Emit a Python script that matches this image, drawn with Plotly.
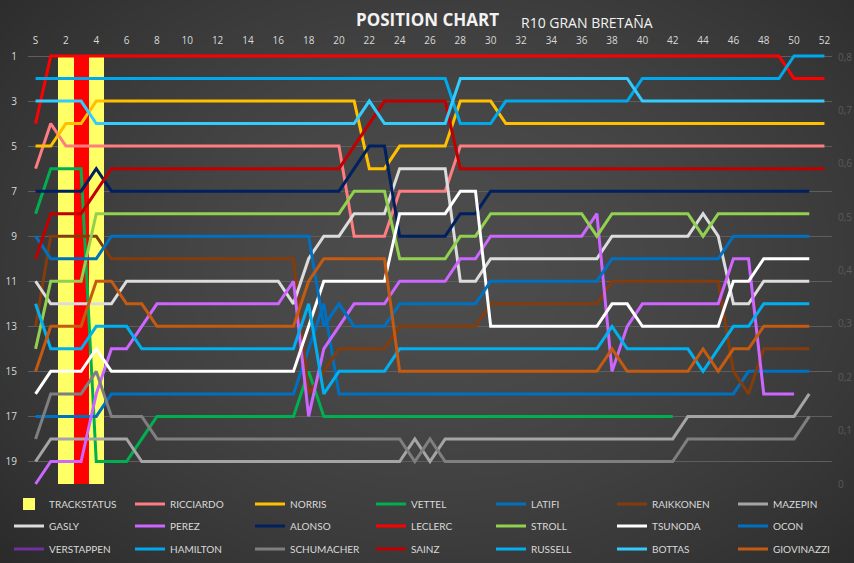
import base64
import struct
import zlib

import numpy as np
import plotly.graph_objects as go

# ---------------- DATA ----------------
laps = list(range(0, 53))
lap_ticks = list(range(0, 53, 2))
lap_ticktext = ["S"] + [str(v) for v in range(2, 53, 2)]
position_ticks = [1, 3, 5, 7, 9, 11, 13, 15, 17, 19]
status_ticks = [0, 0.1, 0.2, 0.3, 0.4, 0.5, 0.6, 0.7, 0.8]
status_ticktext = ["0", "0,1", "0,2", "0,3", "0,4", "0,5", "0,6", "0,7", "0,8"]

track_status_laps = [2, 3, 4]
track_status_type = ["YELLOW", "RED", "YELLOW"]
track_status_value = [0.8, 0.8, 0.8]

ricciardo = [6, 4, 5, 5, 5, 5, 5, 5, 5, 5,
             5, 5, 5, 5, 5, 5, 5, 5, 5, 5,
             5, 9, 9, 9, 7, 7, 7, 7, 5, 5,
             5, 5, 5, 5, 5, 5, 5, 5, 5, 5,
             5, 5, 5, 5, 5, 5, 5, 5, 5, 5,
             5, 5, 5]
norris = [5, 5, 4, 4, 3, 3, 3, 3, 3, 3,
          3, 3, 3, 3, 3, 3, 3, 3, 3, 3,
          3, 3, 6, 6, 5, 5, 5, 5, 3, 3,
          3, 4, 4, 4, 4, 4, 4, 4, 4, 4,
          4, 4, 4, 4, 4, 4, 4, 4, 4, 4,
          4, 4, 4]
vettel = [8, 6, 6, 6, 19, 19, 19, 18, 17, 17,
          17, 17, 17, 17, 17, 17, 17, 17, 15, 17,
          17, 17, 17, 17, 17, 17, 17, 17, 17, 17,
          17, 17, 17, 17, 17, 17, 17, 17, 17, 17,
          17, 17, 17]
latifi = [17, 17, 17, 17, 17, 16, 16, 16, 16, 16,
          16, 16, 16, 16, 16, 16, 16, 16, 14, 12,
          16, 16, 16, 16, 16, 16, 16, 16, 16, 16,
          16, 16, 16, 16, 16, 16, 16, 16, 16, 16,
          16, 16, 16, 16, 16, 16, 16, 15, 15, 15,
          15, 15]
raikkonen = [13, 9, 9, 9, 9, 10, 10, 10, 10, 10,
             10, 10, 10, 10, 10, 10, 10, 10, 16, 15,
             14, 14, 14, 14, 13, 13, 13, 13, 13, 13,
             12, 12, 12, 12, 12, 12, 12, 12, 11, 11,
             11, 11, 11, 11, 11, 11, 15, 16, 14, 14,
             14, 14]
mazepin = [19, 18, 18, 18, 18, 18, 18, 19, 19, 19,
           19, 19, 19, 19, 19, 19, 19, 19, 19, 19,
           19, 19, 19, 19, 19, 18, 19, 18, 18, 18,
           18, 18, 18, 18, 18, 18, 18, 18, 18, 18,
           18, 18, 18, 17, 17, 17, 17, 17, 17, 17,
           17, 16]
gasly = [11, 12, 12, 12, 12, 12, 11, 11, 11, 11,
         11, 11, 11, 11, 11, 11, 11, 12, 10, 9,
         9, 8, 8, 8, 6, 6, 6, 6, 11, 11,
         10, 10, 10, 10, 10, 10, 10, 10, 9, 9,
         9, 9, 9, 9, 8, 9, 12, 12, 11, 11,
         11, 11]
perez = [20, 19, 19, 19, 16, 14, 14, 13, 12, 12,
         12, 12, 12, 12, 12, 12, 12, 11, 17, 14,
         13, 12, 12, 12, 11, 11, 11, 11, 10, 10,
         9, 9, 9, 9, 9, 9, 9, 8, 15, 13,
         12, 12, 12, 12, 12, 12, 10, 10, 16, 16,
         16]
alonso = [7, 7, 7, 7, 6, 7, 7, 7, 7, 7,
          7, 7, 7, 7, 7, 7, 7, 7, 7, 7,
          7, 6, 5, 5, 9, 9, 9, 9, 8, 8,
          7, 7, 7, 7, 7, 7, 7, 7, 7, 7,
          7, 7, 7, 7, 7, 7, 7, 7, 7, 7,
          7, 7]
leclerc = [4, 1, 1, 1, 1, 1, 1, 1, 1, 1,
           1, 1, 1, 1, 1, 1, 1, 1, 1, 1,
           1, 1, 1, 1, 1, 1, 1, 1, 1, 1,
           1, 1, 1, 1, 1, 1, 1, 1, 1, 1,
           1, 1, 1, 1, 1, 1, 1, 1, 1, 1,
           2, 2, 2]
stroll = [14, 11, 11, 11, 8, 8, 8, 8, 8, 8,
          8, 8, 8, 8, 8, 8, 8, 8, 8, 8,
          8, 7, 7, 7, 10, 10, 10, 10, 9, 9,
          8, 8, 8, 8, 8, 8, 8, 9, 8, 8,
          8, 8, 8, 8, 9, 8, 8, 8, 8, 8,
          8, 8]
tsunoda = [16, 15, 15, 15, 14, 15, 15, 15, 15, 15,
           15, 15, 15, 15, 15, 15, 15, 15, 13, 11,
           11, 11, 11, 11, 8, 8, 8, 8, 7, 7,
           13, 13, 13, 13, 13, 13, 13, 13, 12, 12,
           13, 13, 13, 13, 13, 13, 11, 11, 10, 10,
           10, 10]
ocon = [9, 10, 10, 10, 10, 9, 9, 9, 9, 9,
        9, 9, 9, 9, 9, 9, 9, 9, 9, 13,
        12, 13, 13, 13, 12, 12, 12, 12, 12, 12,
        11, 11, 11, 11, 11, 11, 11, 11, 10, 10,
        10, 10, 10, 10, 10, 10, 9, 9, 9, 9,
        9, 9]
verstappen = [1]
hamilton = [2, 2, 2, 2, 2, 2, 2, 2, 2, 2,
            2, 2, 2, 2, 2, 2, 2, 2, 2, 2,
            2, 2, 2, 2, 2, 2, 2, 2, 4, 4,
            4, 3, 3, 3, 3, 3, 3, 3, 3, 3,
            2, 2, 2, 2, 2, 2, 2, 2, 2, 2,
            1, 1, 1]
schumacher = [18, 16, 16, 16, 15, 17, 17, 17, 18, 18,
              18, 18, 18, 18, 18, 18, 18, 18, 18, 18,
              18, 18, 18, 18, 18, 19, 18, 19, 19, 19,
              19, 19, 19, 19, 19, 19, 19, 19, 19, 19,
              19, 19, 19, 18, 18, 18, 18, 18, 18, 18,
              18, 17]
sainz = [10, 8, 8, 8, 7, 6, 6, 6, 6, 6,
         6, 6, 6, 6, 6, 6, 6, 6, 6, 6,
         6, 5, 4, 3, 3, 3, 3, 3, 6, 6,
         6, 6, 6, 6, 6, 6, 6, 6, 6, 6,
         6, 6, 6, 6, 6, 6, 6, 6, 6, 6,
         6, 6, 6]
russell = [12, 14, 14, 14, 13, 13, 13, 14, 14, 14,
           14, 14, 14, 14, 14, 14, 14, 14, 12, 16,
           15, 15, 15, 15, 14, 14, 14, 14, 14, 14,
           14, 14, 14, 14, 14, 14, 14, 14, 13, 14,
           14, 14, 14, 14, 15, 14, 13, 13, 12, 12,
           12, 12]
bottas = [3, 3, 3, 3, 4, 4, 4, 4, 4, 4,
          4, 4, 4, 4, 4, 4, 4, 4, 4, 4,
          4, 4, 3, 4, 4, 4, 4, 4, 2, 2,
          2, 2, 2, 2, 2, 2, 2, 2, 2, 2,
          3, 3, 3, 3, 3, 3, 3, 3, 3, 3,
          3, 3, 3]
giovinazzi = [15, 13, 13, 13, 11, 11, 12, 12, 13, 13,
              13, 13, 13, 13, 13, 13, 13, 13, 11, 10,
              10, 10, 10, 10, 15, 15, 15, 15, 15, 15,
              15, 15, 15, 15, 15, 15, 15, 15, 14, 15,
              15, 15, 15, 15, 14, 15, 14, 14, 13, 13,
              13, 13]

drivers = ["RICCIARDO", "NORRIS", "VETTEL", "LATIFI", "RAIKKONEN", "MAZEPIN",
           "GASLY", "PEREZ", "ALONSO", "LECLERC", "STROLL", "TSUNODA", "OCON",
           "VERSTAPPEN", "HAMILTON", "SCHUMACHER", "SAINZ", "RUSSELL", "BOTTAS",
           "GIOVINAZZI"]
driver_positions = [ricciardo, norris, vettel, latifi, raikkonen, mazepin,
                    gasly, perez, alonso, leclerc, stroll, tsunoda, ocon,
                    verstappen, hamilton, schumacher, sainz, russell, bottas,
                    giovinazzi]

# ---------------- STYLE ----------------
driver_colors = ["#FF7C80", "#FFC000", "#00B050", "#0070C0", "#843C0C", "#A5A5A5",
                 "#DCDCDC", "#CC66FF", "#002060", "#FF0000", "#92D050", "#FFFFFF",
                 "#0070C0", "#7030A0", "#00A9EC", "#7F7F7F", "#C00000", "#00B0F0",
                 "#33CCFF", "#C55A11"]
status_colors = {"YELLOW": "#FFFF66", "RED": "#FF0000"}

W, H = 854, 563
ML, MR, MT, MB = 28, 22, 48, 77
PW, PH = W - ML - MR, H - MT - MB


def px_x(px):
    return (px - ML) / PW


def px_y(py):
    return (H - MB - py) / PH


# background radial gradient image
def gradient_png(w, h):
    yy, xx = np.mgrid[0:h, 0:w].astype(float)
    cx, cy = w * 0.52, h * 0.47
    r = np.sqrt(((xx - cx) / (w * 0.60)) ** 2 + ((yy - cy) / (h * 0.66)) ** 2)
    r = np.clip(r, 0, 1.25)
    v = 0x4D - (0x4D - 0x27) * (r / 1.25) ** 1.6
    arr = np.clip(v, 0, 255).astype(np.uint8)
    arr = np.stack([arr, arr, arr], axis=-1)
    raw = b"".join(b"\x00" + arr[i].tobytes() for i in range(h))

    def chunk(t, d):
        c = struct.pack(">I", len(d)) + t + d
        return c + struct.pack(">I", zlib.crc32(t + d) & 0xFFFFFFFF)

    png = (b"\x89PNG\r\n\x1a\n"
           + chunk(b"IHDR", struct.pack(">IIBBBBB", w, h, 8, 2, 0, 0, 0))
           + chunk(b"IDAT", zlib.compress(raw, 9))
           + chunk(b"IEND", b""))
    return "data:image/png;base64," + base64.b64encode(png).decode()


fig = go.Figure()

legend_text_x = [49, 170, 290, 411, 531, 652, 773]
legend_row_y = [504, 526, 549]
legend_layouts = {}


def legend_key(i):
    return "legend" if i == 0 else f"legend{i + 1}"


def add_legend(i):
    col, row = i % 7, i // 7
    legend_layouts[legend_key(i)] = dict(
        x=(legend_text_x[col] - 40) / W, xref="container", xanchor="left",
        y=1 - legend_row_y[row] / H, yref="container", yanchor="middle",
        bgcolor="rgba(0,0,0,0)", borderwidth=0,
        font=dict(family="Lato", size=10, color="#D9D9D9"),
        itemclick=False, itemdoubleclick=False,
    )


# track status bars (primary y, right side)
fig.add_trace(go.Bar(
    x=track_status_laps, y=track_status_value, name="TRACKSTATUS",
    marker=dict(color=[status_colors[t] for t in track_status_type], line=dict(width=0)),
    width=1, yaxis="y", xaxis="x", legend=legend_key(0), hoverinfo="skip",
))
add_legend(0)

for i, (name, pos, col) in enumerate(zip(drivers, driver_positions, driver_colors), start=1):
    fig.add_trace(go.Scatter(
        x=laps[:len(pos)], y=pos, name=name, mode="lines",
        line=dict(color=col, width=3),
        yaxis="y2", xaxis="x", legend=legend_key(i),
    ))
    add_legend(i)

fig.update_layout(
    width=W, height=H,
    margin=dict(l=ML, r=MR, t=MT, b=MB, pad=0, autoexpand=False),
    paper_bgcolor="#3C3C3C",
    plot_bgcolor="rgba(0,0,0,0)",
    bargap=0,
    showlegend=True,
    xaxis=dict(
        range=[-0.5, 52.5], side="top", tickmode="array",
        tickvals=lap_ticks, ticktext=lap_ticktext,
        showgrid=False, zeroline=False, showline=False, ticks="",
        tickfont=dict(family="Open Sans", size=10, color="#D9D9D9"),
        ticklabelstandoff=1, fixedrange=True, automargin=False,
    ),
    yaxis=dict(
        side="right", range=[-2 / 533.75, 0.8 + 9 / 533.75],
        tickmode="array", tickvals=status_ticks, ticktext=status_ticktext,
        showgrid=False, zeroline=False, showline=False, ticks="",
        tickfont=dict(family="Open Sans", size=10, color="#5A5A5A"),
        ticklabelstandoff=5, automargin=False,
    ),
    yaxis2=dict(
        overlaying="y", side="left",
        range=[20 + 2 / 22.526, 1 - 8 / 22.526],
        tickmode="array", tickvals=position_ticks,
        showgrid=True, gridcolor="#5E5E5E", gridwidth=1,
        zeroline=False, showline=False, ticks="",
        tickfont=dict(family="Open Sans", size=10, color="#D9D9D9"),
        ticklabelstandoff=10, automargin=False,
    ),
    images=[dict(
        source=gradient_png(W, H), xref="paper", yref="paper",
        x=px_x(0), y=px_y(0), sizex=W / PW, sizey=H / PH,
        xanchor="left", yanchor="top", sizing="stretch", layer="below",
    )],
    annotations=[
        dict(text="<b>POSITION CHART</b>", xref="paper", yref="paper",
             x=px_x(427), y=px_y(20), xanchor="center", yanchor="middle",
             showarrow=False,
             font=dict(family="Open Sans", size=17, color="#F2F2F2")),
        dict(text="R10 GRAN BRETAÑA", xref="paper", yref="paper",
             x=px_x(519), y=px_y(22), xanchor="left", yanchor="middle",
             showarrow=False,
             font=dict(family="Open Sans", size=14, color="#F2F2F2")),
    ],
    **legend_layouts,
)

fig.write_html("out.html")
